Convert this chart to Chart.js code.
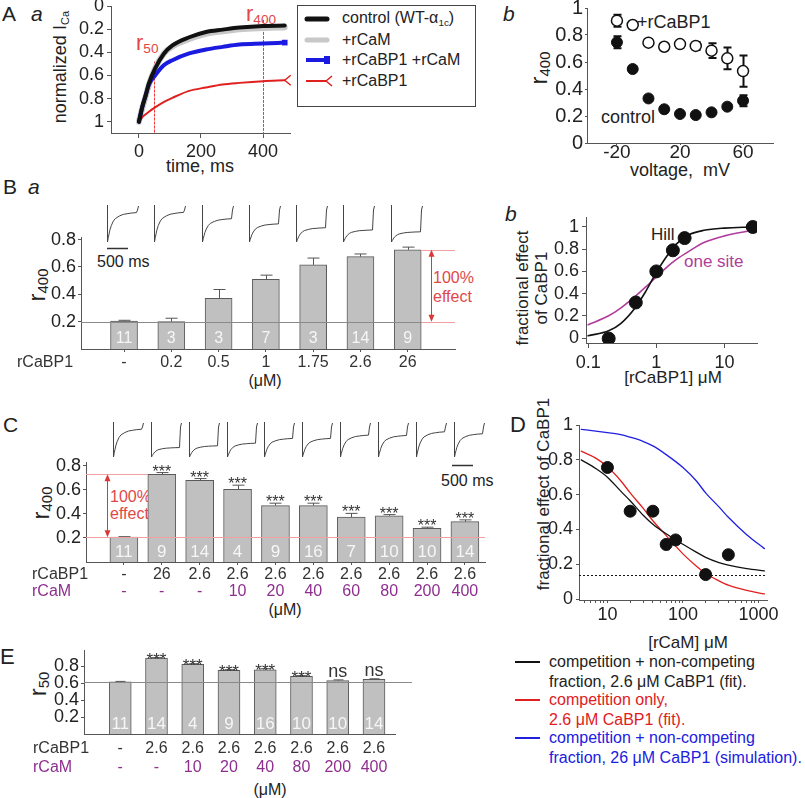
<!DOCTYPE html>
<html>
<head>
<meta charset="utf-8">
<script src="https://cdn.jsdelivr.net/npm/chart.js@4.4.1/dist/chart.umd.min.js"></script>
<style>
  body { margin: 0; background: #fff; }
  #fig { position: relative; width: 805px; height: 798px; overflow: hidden;
         font-family: 'Liberation Sans', Arial, sans-serif; color: #222; }
  #fig canvas { position: absolute; }
  .t { position: absolute; white-space: nowrap; line-height: 1; }
  .c { transform: translate(-50%, -50%); }
  .l { transform: translate(0, -50%); }
  .rot { transform: translate(-50%, -50%) rotate(-90deg); text-align: center; }
  .i { font-style: italic; }
  sub { font-size: 0.62em; vertical-align: -0.25em; }
  .red { color: #e04848; }
</style>
</head>
<body>
<div id="fig">
  <!-- A -->
  <div class="t" style="left:2px;top:3px;font-size:21px">A</div>
  <div class="t i" style="left:31px;top:3px;font-size:21px">a</div>
  <div class="t rot" style="left:61px;top:67px;font-size:18px">normalized I<sub>Ca</sub></div>
  <div class="t c" style="left:200px;top:166px;font-size:18px">time, ms</div>
  <div class="t l red" style="left:136px;top:44px;font-size:22px">r<sub>50</sub></div>
  <div class="t l red" style="left:246px;top:15px;font-size:22px">r<sub>400</sub></div>
  <div style="position:absolute;left:297px;top:5px;width:177px;height:100px;border:1px solid #444"></div>
  <svg style="position:absolute;left:300px;top:8px" width="40" height="90">
    <line x1="7" y1="11" x2="27" y2="11" stroke="#111" stroke-width="5" stroke-linecap="round"/>
    <line x1="7" y1="32" x2="27" y2="32" stroke="#c8c8c8" stroke-width="5" stroke-linecap="round"/>
    <line x1="6" y1="52" x2="26" y2="52" stroke="#1a1ae0" stroke-width="4"/>
    <rect x="24" y="48" width="6" height="8" fill="#1a1ae0"/>
    <line x1="6" y1="73" x2="26" y2="73" stroke="#e0201e" stroke-width="2"/>
    <path d="M26 73 L32 68 M26 73 L32 78" stroke="#e0201e" stroke-width="1.5" fill="none"/>
  </svg>
  <div class="t l" style="left:342px;top:19px;font-size:16px">control (WT-&alpha;<sub>1c</sub>)</div>
  <div class="t l" style="left:342px;top:40px;font-size:16px">+rCaM</div>
  <div class="t l" style="left:342px;top:60px;font-size:16px">+rCaBP1 +rCaM</div>
  <div class="t l" style="left:342px;top:81px;font-size:16px">+rCaBP1</div>

  <div class="t i" style="left:503px;top:3px;font-size:21px">b</div>
  <div class="t rot" style="left:540px;top:68px;font-size:24px">r<sub>400</sub></div>
  <div class="t c" style="left:680px;top:170px;font-size:18px">voltage,&nbsp; mV</div>
  <div class="t l" style="left:637px;top:22px;font-size:18px">+rCaBP1</div>
  <div class="t l" style="left:601px;top:117px;font-size:18px">control</div>

  <!-- B -->
  <div class="t" style="left:3px;top:176px;font-size:21px">B</div>
  <div class="t i" style="left:28px;top:176px;font-size:21px">a</div>
  <div class="t rot" style="left:38px;top:285px;font-size:24px">r<sub>400</sub></div>
  <div class="t l" style="left:97px;top:262px;font-size:16px">500 ms</div>
  <div class="t l red" style="left:433px;top:278px;font-size:16px">100%</div>
  <div class="t l red" style="left:433px;top:297px;font-size:16px">effect</div>
  <div class="t c" style="left:265px;top:381px;font-size:16px">(&mu;M)</div>

  <div class="t i" style="left:505px;top:203px;font-size:21px">b</div>
  <div class="t rot" style="left:532px;top:288px;font-size:17px;line-height:19px">fractional effect<br>of CaBP1</div>
  <div class="t l" style="left:651px;top:234px;font-size:17px">Hill</div>
  <div class="t l" style="left:684px;top:261px;font-size:17px;color:#b03c9c">one site</div>
  <div class="t c" style="left:673px;top:377px;font-size:17px">[rCaBP1] &mu;M</div>

  <!-- C -->
  <div class="t" style="left:3px;top:414px;font-size:21px">C</div>
  <div class="t rot" style="left:42px;top:503px;font-size:24px">r<sub>400</sub></div>
  <div class="t l red" style="left:110px;top:497px;font-size:16px">100%</div>
  <div class="t l red" style="left:110px;top:514px;font-size:16px">effect</div>
  <div class="t l" style="left:441px;top:481px;font-size:16px">500 ms</div>
  <div class="t c" style="left:285px;top:610px;font-size:16px">(&mu;M)</div>

  <!-- D -->
  <div class="t" style="left:510px;top:414px;font-size:22px">D</div>
  <div class="t rot" style="left:543px;top:494px;font-size:17px">fractional effect of CaBP1</div>
  <div class="t c" style="left:688px;top:642px;font-size:17px">[rCaM] &mu;M</div>
  <svg style="position:absolute;left:512px;top:650px" width="32" height="100">
    <line x1="3" y1="12" x2="28" y2="12" stroke="#111" stroke-width="2"/>
    <line x1="3" y1="50" x2="28" y2="50" stroke="#e0201e" stroke-width="2"/>
    <line x1="3" y1="88" x2="28" y2="88" stroke="#2020e0" stroke-width="2"/>
  </svg>
  <div class="t l" style="left:549px;top:662px;font-size:16px">competition + non-competing</div>
  <div class="t l" style="left:549px;top:682px;font-size:16px">fraction, 2.6 &mu;M CaBP1 (fit).</div>
  <div class="t l" style="left:549px;top:700px;font-size:16px;color:#e0201e">competition only,</div>
  <div class="t l" style="left:549px;top:720px;font-size:16px;color:#e0201e">2.6 &mu;M CaBP1 (fit).</div>
  <div class="t l" style="left:549px;top:738px;font-size:16px;color:#2020e0">competition + non-competing</div>
  <div class="t l" style="left:549px;top:758px;font-size:16px;color:#2020e0">fraction, 26 &mu;M CaBP1 (simulation).</div>

  <!-- E -->
  <div class="t" style="left:0px;top:646px;font-size:22px">E</div>
  <div class="t rot" style="left:39px;top:684px;font-size:24px">r<sub>50</sub></div>
  <div class="t c" style="left:270px;top:790px;font-size:16px">(&mu;M)</div>
</div>

<script>
// ---- A a : normalized I_Ca time courses
var tMs = [0, 11, 22, 32, 52, 81, 108, 162, 216, 270, 324, 400, 470]
var icaControl = [1.0, 0.87, 0.77, 0.67, 0.54, 0.41, 0.34, 0.27, 0.224, 0.204, 0.186, 0.172, 0.169]
var icaCaM = [1.0, 0.88, 0.78, 0.68, 0.54, 0.41, 0.35, 0.285, 0.24, 0.218, 0.2, 0.19, 0.185]
var icaCaBP1CaM = [1.0, 0.87, 0.77, 0.68, 0.60, 0.51, 0.468, 0.41, 0.376, 0.353, 0.333, 0.324, 0.316]
var icaCaBP1 = [1.0, 0.96, 0.935, 0.914, 0.876, 0.828, 0.793, 0.733, 0.704, 0.678, 0.664, 0.649, 0.641]

// ---- A b : r400 vs voltage
var voltages = [-20, -10, 0, 10, 20, 30, 40, 50, 60]
var r400Control = [0.746, 0.548, 0.33, 0.25, 0.215, 0.207, 0.227, 0.269, 0.313]
var r400ControlErr = [0.045, 0.01, 0.01, 0.01, 0.01, 0.01, 0.01, 0.015, 0.04]
var r400CaBP1 = [0.906, 0.874, 0.743, 0.713, 0.733, 0.719, 0.684, 0.627, 0.533]
var r400CaBP1Err = [0.044, 0.015, 0.01, 0.01, 0.01, 0.03, 0.055, 0.08, 0.116]

// ---- B a : r400 vs rCaBP1 dose
var baCaBP1 = ['-', '0.2', '0.5', '1', '1.75', '2.6', '26']
var baR400 = [0.205, 0.20, 0.37, 0.51, 0.615, 0.675, 0.725]
var baErr = [0.005, 0.025, 0.065, 0.03, 0.05, 0.02, 0.02]
var baN = [11, 3, 3, 7, 3, 14, 9]

// ---- B b : dose response
var bbConc = [0.2, 0.5, 1, 1.75, 2.6, 26]
var bbEffect = [-0.005, 0.32, 0.60, 0.79, 0.90, 1.0]
var bbErr = [0.01, 0.045, 0.02, 0.03, 0.02, 0.01]
var hillX = [0.1, 0.2, 0.3, 0.5, 0.7, 1, 1.4, 2, 3, 5, 10, 26]
var hillY = [0.02, 0.065, 0.13, 0.28, 0.42, 0.59, 0.73, 0.85, 0.93, 0.97, 0.99, 1.0]
var oneSiteX = [0.1, 0.2, 0.3, 0.5, 0.7, 1, 1.5, 2, 3, 5, 10, 26]
var oneSiteY = [0.12, 0.2, 0.27, 0.38, 0.46, 0.55, 0.65, 0.71, 0.78, 0.86, 0.92, 0.97]

// ---- C : r400 with rCaBP1 + rCaM
var cCaBP1 = ['-', '26', '2.6', '2.6', '2.6', '2.6', '2.6', '2.6', '2.6', '2.6']
var cCaM = ['-', '-', '-', '10', '20', '40', '60', '80', '200', '400']
var cR400 = [0.207, 0.73, 0.68, 0.605, 0.47, 0.47, 0.375, 0.385, 0.28, 0.336]
var cErr = [0.004, 0.015, 0.015, 0.035, 0.02, 0.02, 0.03, 0.01, 0.01, 0.015]
var cN = [11, 9, 14, 4, 9, 16, 7, 10, 10, 14]
var cSig = ['', '***', '***', '***', '***', '***', '***', '***', '***', '***']

// ---- D : fractional effect vs rCaM
var dCaM = [10, 20, 40, 60, 80, 200, 400]
var dEffect = [0.756, 0.505, 0.505, 0.314, 0.34, 0.141, 0.255]
var dErr = [0.025, 0, 0, 0.03, 0, 0, 0]
var dCurveX = [4.5, 7, 10, 15, 20, 30, 40, 60, 100, 150, 200, 300, 400, 700, 1200]
var dFitBoth = [0.80, 0.75, 0.70, 0.62, 0.565, 0.48, 0.43, 0.375, 0.315, 0.27, 0.24, 0.21, 0.195, 0.175, 0.162]
var dFitComp = [0.85, 0.81, 0.76, 0.68, 0.61, 0.52, 0.45, 0.365, 0.26, 0.19, 0.147, 0.105, 0.08, 0.05, 0.03]
var dSim26 = [0.975, 0.965, 0.956, 0.945, 0.93, 0.905, 0.88, 0.83, 0.756, 0.68, 0.61, 0.53, 0.47, 0.37, 0.29]
var dFloor = 0.137

// ---- E : r50
var eCaBP1 = ['-', '2.6', '2.6', '2.6', '2.6', '2.6', '2.6', '2.6']
var eCaM = ['-', '-', '10', '20', '40', '80', '200', '400']
var eR50 = [0.615, 0.895, 0.82, 0.75, 0.755, 0.68, 0.63, 0.645]
var eErr = [0.005, 0.005, 0.008, 0.008, 0.015, 0.008, 0.008, 0.006]
var eN = [11, 14, 4, 9, 16, 10, 10, 14]
var eSig = ['', '***', '***', '***', '***', '***', 'ns', 'ns']

var FONT = "'Liberation Sans', Arial, sans-serif"
var PURPLE = '#8e2f8e'
Chart.defaults.font.family = FONT
Chart.defaults.color = '#222'

function xy(xs, ys) { return xs.map(function (x, i) { return {x: x, y: ys[i]} }) }
function idx(ys) { return ys.map(function (y, i) { return {x: i, y: y} }) }

function box(L, T, W, H, l, t, r, b) { return {L: L, T: T, W: W, H: H, l: l, t: t, r: r, b: b} }

function canvasFor(bx) {
  var c = document.createElement('canvas')
  c.width = bx.W; c.height = bx.H
  c.style.left = bx.L + 'px'; c.style.top = bx.T + 'px'
  document.getElementById('fig').appendChild(c)
  return c
}

function scaleOpts(bx, isX, o) {
  return {
    type: o.type || 'linear', min: o.min, max: o.max, reverse: !!o.reverse, offset: false,
    border: {display: true, color: '#555', width: 1},
    grid: {display: true, drawOnChartArea: false, drawTicks: true, offset: false,
           tickLength: o.tl == null ? 4 : o.tl, color: '#555'},
    ticks: {display: o.labels !== false, autoSkip: false, maxRotation: 0,
            padding: o.pad == null ? 2 : o.pad, font: {size: o.size || 18}, color: '#222',
            callback: o.fmt || function (v) { return String(v) }},
    afterBuildTicks: function (s) { s.ticks = o.at.map(function (v) { return {value: v} }) },
    afterFit: function (s) {
      if (isX) { s.height = bx.T + bx.H - bx.b; s.paddingLeft = 0; s.paddingRight = 0 }
      else { s.width = bx.l - bx.L; s.paddingTop = 0; s.paddingBottom = 0 }
    }
  }
}

function baseOpts(bx, xo, yo) {
  return {
    responsive: false, animation: false, events: [],
    layout: {padding: {left: 0, top: bx.t - bx.T, right: bx.L + bx.W - bx.r, bottom: 0}},
    plugins: {legend: {display: false}, tooltip: {enabled: false}},
    scales: {x: scaleOpts(bx, true, xo), y: scaleOpts(bx, false, yo)}
  }
}

function text(ctx, s, x, y, o) {
  ctx.save()
  ctx.font = (o.style || '') + ' ' + o.size + 'px ' + FONT
  ctx.fillStyle = o.color || '#222'
  ctx.textAlign = o.align || 'center'
  ctx.textBaseline = o.base || 'middle'
  ctx.fillText(s, x, y)
  ctx.restore()
}

function hline(ctx, x0, x1, yy, color, dash) {
  ctx.save(); ctx.strokeStyle = color; ctx.lineWidth = 1
  if (dash) ctx.setLineDash(dash)
  yy = Math.round(yy) + 0.5
  ctx.beginPath(); ctx.moveTo(x0, yy); ctx.lineTo(x1, yy); ctx.stroke()
  ctx.restore()
}

// dotted vertical marker drawn as short red segments
function vdots(ctx, xx, y0, y1, color) {
  ctx.save(); ctx.fillStyle = color
  xx = Math.round(xx)
  for (var yy = y0; yy < y1; yy += 4) ctx.fillRect(xx, yy, 1, 3)
  ctx.restore()
}

function arrow(ctx, xx, y0, y1, color) {
  xx = Math.round(xx) + 0.5
  ctx.save(); ctx.strokeStyle = color; ctx.fillStyle = color; ctx.lineWidth = 1
  ctx.beginPath(); ctx.moveTo(xx, y0 + 3); ctx.lineTo(xx, y1 - 3); ctx.stroke()
  function head(yy, dir) {
    ctx.beginPath(); ctx.moveTo(xx, yy); ctx.lineTo(xx - 3, yy + 7 * dir); ctx.lineTo(xx + 3, yy + 7 * dir)
    ctx.closePath(); ctx.fill()
  }
  head(y0, 1); head(y1, -1)
  ctx.restore()
}

// error bars; up = only the upper half (bar charts)
function errBars(chart, di, list, o) {
  var ctx = chart.ctx, ys = chart.scales.y
  var meta = chart.getDatasetMeta(di), data = chart.data.datasets[di].data
  ctx.save(); ctx.strokeStyle = o.color; ctx.lineWidth = o.lw
  meta.data.forEach(function (el, i) {
    var e = list[i]
    if (!e) return
    var top = ys.getPixelForValue(data[i].y + e)
    var bot = o.up ? el.y : ys.getPixelForValue(data[i].y - e)
    var x = Math.round(el.x) + 0.5
    ctx.beginPath()
    ctx.moveTo(x, bot); ctx.lineTo(x, top)
    ctx.moveTo(x - o.cap, top); ctx.lineTo(x + o.cap, top)
    if (!o.up) { ctx.moveTo(x - o.cap, bot); ctx.lineTo(x + o.cap, bot) }
    ctx.stroke()
  })
  ctx.restore()
}

function nLabels(chart, ns, size) {
  var a = chart.chartArea
  chart.getDatasetMeta(0).data.forEach(function (el, i) {
    text(chart.ctx, String(ns[i]), el.x, a.bottom - 10, {size: size, color: '#f6f6f6'})
  })
}

function sigMarks(chart, marks, vals, errs, o) {
  var ys = chart.scales.y
  chart.getDatasetMeta(0).data.forEach(function (el, i) {
    if (!marks[i]) return
    var top = ys.getPixelForValue(vals[i] + errs[i])
    var star = marks[i] === '***'
    text(chart.ctx, marks[i], el.x, top + (star ? o.starOff : -3),
      {size: star ? o.starSize : 18, color: '#333', base: 'alphabetic'})
  })
}

function rows(chart, bx, list) {
  var ctx = chart.ctx, xs = chart.scales.x
  list.forEach(function (row) {
    text(ctx, row.label, row.lx - bx.L, row.y - bx.T, {size: 16, color: row.color, align: 'left'})
    row.values.forEach(function (s, i) {
      text(ctx, s, xs.getPixelForValue(i), row.y - bx.T, {size: 16, color: row.color})
    })
  })
}

// inset current traces, shaped like the control time course of A a
function traces(chart, vals, dx, base, depth, w) {
  var ctx = chart.ctx, xs = chart.scales.x
  var end = icaControl[tMs.indexOf(400)]
  ctx.save(); ctx.strokeStyle = '#444'; ctx.lineWidth = 1
  vals.forEach(function (r, k) {
    var x0 = Math.round(xs.getPixelForValue(k) + dx) + 0.5
    ctx.beginPath(); ctx.moveTo(x0, base); ctx.lineTo(x0, base + depth)
    for (var i = 0; tMs[i] <= 400; i++) {
      var g = (icaControl[i] - end) / (1 - end)
      ctx.lineTo(x0 + w * tMs[i] / 400, base + depth * (r + (1 - r) * g))
    }
    ctx.lineTo(x0 + w + 1, base + 5); ctx.lineTo(x0 + w + 2, base + 1)
    ctx.stroke()
  })
  ctx.restore()
}

function barSet(vals, thick) {
  return {data: idx(vals), backgroundColor: '#c0c0c0', borderColor: '#5a5a5a', borderWidth: 1,
          barThickness: thick, borderSkipped: 'bottom'}
}

function curve(pts, color, width, extra) {
  var d = {data: pts, borderColor: color, borderWidth: width, pointRadius: 0, fill: false,
           tension: 0.4, cubicInterpolationMode: 'monotone', borderCapStyle: 'round', borderJoinStyle: 'round'}
  for (var k in extra) d[k] = extra[k]
  return d
}

// ============ A a
var aaBox = box(0, 0, 300, 180, 111, 6, 290, 133)
var aaOpts = baseOpts(aaBox,
  {min: -90, max: 487, at: [0, 200, 400], tl: 5, pad: 3},
  {min: 0, max: 1.097, reverse: true, at: [0, 0.2, 0.4, 0.6, 0.8, 1], tl: 4, pad: 3})
new Chart(canvasFor(aaBox), {
  type: 'line',
  data: {datasets: [
    curve(xy(tMs, icaControl), '#111', 4),
    curve(xy(tMs, icaCaBP1CaM), '#1a1ae0', 4, {
      pointRadius: function (c) { return c.dataIndex === tMs.length - 1 ? 4 : 0 },
      pointStyle: 'rect', pointBackgroundColor: '#1a1ae0', pointBorderWidth: 0}),
    curve(xy(tMs, icaCaBP1), '#e0201e', 2),
    curve(xy(tMs, icaCaM), '#c8c8c8', 6)
  ]},
  options: aaOpts,
  plugins: [{
    id: 'aaExtras',
    beforeDatasetsDraw: function (chart) {
      var ctx = chart.ctx, x = chart.scales.x, y = chart.scales.y, a = chart.chartArea
      vdots(ctx, x.getPixelForValue(50), y.getPixelForValue(0.48), a.bottom, '#f03a3a')
      vdots(ctx, x.getPixelForValue(400), y.getPixelForValue(0.12), a.bottom, '#f03a3a')
    },
    afterDatasetsDraw: function (chart) {
      var ctx = chart.ctx, el = chart.getDatasetMeta(2).data[tMs.length - 1]
      ctx.save(); ctx.strokeStyle = '#e0201e'; ctx.lineWidth = 1.5
      ctx.beginPath(); ctx.moveTo(el.x, el.y); ctx.lineTo(el.x + 6, el.y - 5)
      ctx.moveTo(el.x, el.y); ctx.lineTo(el.x + 6, el.y + 5); ctx.stroke(); ctx.restore()
    }
  }]
})

// ============ A b
var abBox = box(490, 0, 315, 165, 587, 8, 773, 143)
new Chart(canvasFor(abBox), {
  type: 'scatter',
  data: {datasets: [
    {data: xy(voltages, r400CaBP1), pointRadius: 5.5, pointBackgroundColor: '#fff', pointBorderColor: '#111', pointBorderWidth: 1.5},
    {data: xy(voltages, r400Control), pointRadius: 5.5, pointBackgroundColor: '#111', pointBorderColor: '#111', pointBorderWidth: 1}
  ]},
  options: baseOpts(abBox,
    {min: -39, max: 79, at: [-20, 20, 60], tl: 2, pad: -4, size: 19},
    {min: 0, max: 1, at: [0, 0.2, 0.4, 0.6, 0.8, 1], tl: 2, pad: 2, size: 20}),
  plugins: [{
    id: 'abErr',
    beforeDatasetsDraw: function (chart) {
      errBars(chart, 0, r400CaBP1Err, {color: '#111', lw: 2, cap: 4})
      errBars(chart, 1, r400ControlErr, {color: '#111', lw: 2, cap: 4})
    }
  }]
})

// ============ B a
var baBox = box(0, 185, 480, 200, 81, 237, 455, 349)
new Chart(canvasFor(baBox), {
  type: 'bar',
  data: {datasets: [barSet(baR400, 27)]},
  options: baseOpts(baBox,
    {min: -0.91, max: 7.0, at: [0, 1, 2, 3, 4, 5, 6], labels: false, tl: 3},
    {min: 0, max: 0.819, at: [0.2, 0.4, 0.6, 0.8], tl: 3, pad: 2}),
  plugins: [{
    id: 'baExtras',
    afterDatasetsDraw: function (chart) {
      var ctx = chart.ctx, x = chart.scales.x, y = chart.scales.y, a = chart.chartArea
      var last = baR400.length - 1
      errBars(chart, 0, baErr, {color: '#555', lw: 1, cap: 6, up: true})
      hline(ctx, a.left, a.right, y.getPixelForValue(0.2), '#8a8a8a')
      var edge = x.getPixelForValue(last) + 14
      hline(ctx, edge, a.right, y.getPixelForValue(baR400[last]), '#f0a0a0')
      hline(ctx, edge, a.right, y.getPixelForValue(0.2), '#f0a0a0')
      arrow(ctx, x.getPixelForValue(last + 0.49), y.getPixelForValue(baR400[last]), y.getPixelForValue(0.2), '#d83a3a')
      nLabels(chart, baN, 16)
      traces(chart, baR400, -17, 20, 37, 29)
      ctx.save(); ctx.strokeStyle = '#333'; ctx.lineWidth = 1.5
      ctx.beginPath(); ctx.moveTo(107, 63.5); ctx.lineTo(128, 63.5); ctx.stroke(); ctx.restore()
      rows(chart, baBox, [{label: 'rCaBP1', lx: 17, y: 363, color: '#333', values: baCaBP1}])
    }
  }]
})

// ============ B b
var bbBox = box(490, 195, 315, 190, 586, 217, 757, 343)
new Chart(canvasFor(bbBox), {
  type: 'line',
  data: {datasets: [
    {data: xy(bbConc, bbEffect), showLine: false, pointRadius: 6.5, pointBackgroundColor: '#111', pointBorderColor: '#111'},
    curve(xy(hillX, hillY), '#111', 1.6),
    curve(xy(oneSiteX, oneSiteY), '#b03c9c', 1.6)
  ]},
  options: baseOpts(bbBox,
    {type: 'logarithmic', min: 0.093, max: 30, at: [0.1, 1, 10], tl: 5, pad: 4},
    {min: -0.045, max: 1.09, at: [0, 0.2, 0.4, 0.6, 0.8, 1], tl: 4, pad: 3}),
  plugins: [{
    id: 'bbErr',
    beforeDatasetsDraw: function (chart) { errBars(chart, 0, bbErr, {color: '#555', lw: 1.5, cap: 3}) }
  }]
})

// ============ C
var cBox = box(0, 400, 490, 225, 86, 462, 485, 562)
new Chart(canvasFor(cBox), {
  type: 'bar',
  data: {datasets: [barSet(cR400, 28)]},
  options: baseOpts(cBox,
    {min: -1.0, max: 9.53, at: [0, 1, 2, 3, 4, 5, 6, 7, 8, 9], labels: false, tl: 3},
    {min: 0, max: 0.833, at: [0.2, 0.4, 0.6, 0.8], tl: 3, pad: 2}),
  plugins: [{
    id: 'cExtras',
    afterDatasetsDraw: function (chart) {
      var ctx = chart.ctx, x = chart.scales.x, y = chart.scales.y, a = chart.chartArea
      errBars(chart, 0, cErr, {color: '#555', lw: 1, cap: 6, up: true})
      hline(ctx, a.left, a.right, y.getPixelForValue(cR400[0]), '#f0a0a0')
      hline(ctx, a.left, x.getPixelForValue(1) - 14, y.getPixelForValue(cR400[1]), '#f0a0a0')
      arrow(ctx, x.getPixelForValue(-0.45), y.getPixelForValue(cR400[1]), y.getPixelForValue(cR400[0]), '#d83a3a')
      nLabels(chart, cN, 17)
      sigMarks(chart, cSig, cR400, cErr, {starSize: 16, starOff: 4})
      traces(chart, cR400, -11, 22, 35, 28)
      ctx.save(); ctx.strokeStyle = '#333'; ctx.lineWidth = 1.5
      ctx.beginPath(); ctx.moveTo(452, 65.5); ctx.lineTo(473, 65.5); ctx.stroke(); ctx.restore()
      rows(chart, cBox, [
        {label: 'rCaBP1', lx: 32, y: 575, color: '#333', values: cCaBP1},
        {label: 'rCaM', lx: 32, y: 592, color: PURPLE, values: cCaM}
      ])
    }
  }]
})

// ============ D
var dBox = box(490, 400, 315, 220, 579, 425, 767, 600)
var dTicks = []
;[1, 10, 100].forEach(function (p) { for (var m = 1; m < 10; m++) if (m * p >= 5) dTicks.push(m * p) })
dTicks.push(1000)
new Chart(canvasFor(dBox), {
  type: 'line',
  data: {datasets: [
    {data: xy(dCaM, dEffect), showLine: false, pointRadius: 6, pointBackgroundColor: '#111', pointBorderColor: '#111'},
    curve(xy(dCurveX, dFitBoth), '#111', 1.3),
    curve(xy(dCurveX, dFitComp), '#e0201e', 1.3),
    curve(xy(dCurveX, dSim26), '#2020e0', 1.3)
  ]},
  options: baseOpts(dBox,
    {type: 'logarithmic', min: 4.2, max: 1300, at: dTicks, tl: 3, pad: 1,
     fmt: function (v) { return [10, 100, 1000].indexOf(v) >= 0 ? String(v) : '' }},
    {min: -0.005, max: 1, at: [0, 0.2, 0.4, 0.6, 0.8, 1], tl: 3, pad: 3}),
  plugins: [{
    id: 'dExtras',
    beforeDatasetsDraw: function (chart) {
      var a = chart.chartArea
      hline(chart.ctx, a.left, a.right, chart.scales.y.getPixelForValue(dFloor), '#111', [2, 2])
      errBars(chart, 0, dErr, {color: '#888', lw: 1.5, cap: 3})
    }
  }]
})

// ============ E
var eBox = box(0, 640, 490, 158, 84, 650, 395, 734)
new Chart(canvasFor(eBox), {
  type: 'bar',
  data: {datasets: [barSet(eR50, 22)]},
  options: baseOpts(eBox,
    {min: -1.0, max: 7.58, at: [0, 1, 2, 3, 4, 5, 6, 7], labels: false, tl: 0},
    {min: 0, max: 0.99, at: [0.2, 0.4, 0.6, 0.8], tl: 3, pad: 2}),
  plugins: [{
    id: 'eExtras',
    afterDatasetsDraw: function (chart) {
      var ctx = chart.ctx, x = chart.scales.x, y = chart.scales.y, a = chart.chartArea
      errBars(chart, 0, eErr, {color: '#555', lw: 1, cap: 5, up: true})
      hline(ctx, a.left, x.getPixelForValue(eR50.length - 1) + 38, y.getPixelForValue(eR50[0]), '#8a8a8a')
      nLabels(chart, eN, 17)
      sigMarks(chart, eSig, eR50, eErr, {starSize: 17, starOff: 7})
      rows(chart, eBox, [
        {label: 'rCaBP1', lx: 33, y: 749, color: '#333', values: eCaBP1},
        {label: 'rCaM', lx: 33, y: 768, color: PURPLE, values: eCaM}
      ])
    }
  }]
})
</script>
</body>
</html>
